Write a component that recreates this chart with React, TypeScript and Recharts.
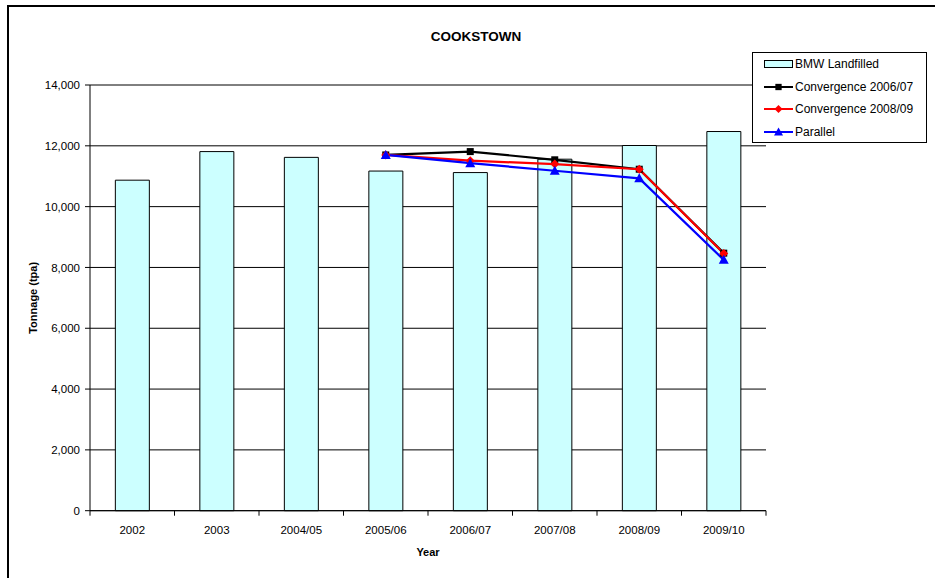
import {
  ComposedChart,
  Bar,
  Line,
  XAxis,
  YAxis,
  CartesianGrid,
  Legend,
} from "recharts";

const YEARS = ["2002", "2003", "2004/05", "2005/06", "2006/07", "2007/08", "2008/09", "2009/10"];
const LANDFILLED = [10870, 11810, 11620, 11170, 11120, 11560, 12010, 12470];
const CONV_0607 = [null, null, null, 11700, 11810, 11540, 11230, 8470];
const CONV_0809 = [null, null, null, 11700, 11510, 11400, 11230, 8460];
const PARALLEL = [null, null, null, 11700, 11430, 11180, 10930, 8250];
const Y_TICKS = [0, 2000, 4000, 6000, 8000, 10000, 12000, 14000];

const FONT = "'Liberation Sans', Arial, sans-serif";

const data = YEARS.map((year, i) => ({
  year,
  landfilled: LANDFILLED[i],
  conv0607: CONV_0607[i],
  conv0809: CONV_0809[i],
  parallel: PARALLEL[i],
}));

type Marker = "square" | "diamond" | "triangle";

const LINES: { key: string; name: string; color: string; marker: Marker }[] = [
  { key: "conv0607", name: "Convergence 2006/07", color: "#000000", marker: "square" },
  { key: "conv0809", name: "Convergence 2008/09", color: "#FF0000", marker: "diamond" },
  { key: "parallel", name: "Parallel", color: "#0000FF", marker: "triangle" },
];

function markerShape(marker: Marker, cx: number, cy: number, color: string, s = 1) {
  if (marker === "square") {
    const h = 3.5 * s;
    return <rect x={cx - h} y={cy - h} width={h * 2} height={h * 2} fill={color} />;
  }
  if (marker === "diamond") {
    const h = 4.5 * s;
    return (
      <polygon
        points={`${cx},${cy - h} ${cx + h},${cy} ${cx},${cy + h} ${cx - h},${cy}`}
        fill={color}
      />
    );
  }
  const h = 5 * s;
  return (
    <polygon
      points={`${cx},${cy - h} ${cx + h},${cy + h * 0.8} ${cx - h},${cy + h * 0.8}`}
      fill={color}
    />
  );
}

const makeDot = (marker: Marker, color: string) => (props: any) => {
  const { cx, cy, value, index } = props;
  if (cx == null || cy == null || value == null) return <g key={`e-${index}`} />;
  return <g key={`d-${index}`}>{markerShape(marker, cx, cy, color)}</g>;
};

// category label plus Excel-style tick marks on the category boundaries
function YearTick(props: any) {
  const { x, y, payload, index, visibleTicksCount } = props;
  const half = payload.offset ?? 0;
  const last = index === visibleTicksCount - 1;
  return (
    <g>
      <line x1={x - half} x2={x - half} y1={y} y2={y + 5} stroke="#000" />
      {last && <line x1={x + half} x2={x + half} y1={y} y2={y + 5} stroke="#000" />}
      <text
        x={x}
        y={y + 15}
        dy="0.71em"
        textAnchor="middle"
        fontFamily={FONT}
        fontSize={11.5}
        fill="#000"
      >
        {payload.value}
      </text>
    </g>
  );
}

function LegendBox() {
  return (
    <div
      style={{
        border: "1px solid #000",
        background: "#fff",
        width: 173,
        height: 89,
        fontFamily: FONT,
        fontSize: 12,
        color: "#000",
        boxSizing: "content-box",
      }}
    >
      <div style={{ height: 22.5, display: "flex", alignItems: "center" }}>
        <svg width={42} height={12}>
          <rect x={11.5} y={2.5} width={28} height={7} fill="#CCFFFF" stroke="#000" />
        </svg>
        <span>BMW Landfilled</span>
      </div>
      {LINES.map((l) => (
        <div key={l.key} style={{ height: 22.5, display: "flex", alignItems: "center" }}>
          <svg width={42} height={12}>
            <line x1={11} x2={40} y1={6} y2={6} stroke={l.color} strokeWidth={2} />
            {markerShape(l.marker, 25.5, 6, l.color, 0.9)}
          </svg>
          <span>{l.name}</span>
        </div>
      ))}
    </div>
  );
}

function YTitle(props: any) {
  const vb = props.viewBox;
  const x = vb.x + 37;
  const y = vb.y + vb.height / 2;
  return (
    <text
      x={x}
      y={y}
      transform={`rotate(-90, ${x}, ${y})`}
      textAnchor="middle"
      fontFamily={FONT}
      fontSize={11}
      fontWeight="bold"
      fill="#000"
    >
      Tonnage (tpa)
    </text>
  );
}

function XTitle(props: any) {
  const vb = props.viewBox;
  return (
    <text
      x={vb.x + vb.width / 2}
      y={vb.y + 45}
      textAnchor="middle"
      fontFamily={FONT}
      fontSize={11}
      fontWeight="bold"
      fill="#000"
    >
      Year
    </text>
  );
}

export default function App() {
  const tick = { fontSize: 11.5, fill: "#000", fontFamily: FONT };
  return (
    <div
      style={{
        position: "absolute",
        left: 0,
        top: 0,
        width: 935,
        height: 578,
        overflow: "hidden",
        background: "#fff",
      }}
    >
      <div
        style={{
          position: "absolute",
          left: 7,
          top: 5,
          width: 2000,
          height: 2000,
          border: "2px solid #000",
        }}
      />
      <div
        style={{
          position: "absolute",
          left: 376,
          top: 28,
          width: 200,
          textAlign: "center",
          fontFamily: FONT,
          fontSize: 13.5,
          fontWeight: "bold",
          lineHeight: "17px",
          color: "#000",
        }}
      >
        COOKSTOWN
      </div>
      <div style={{ position: "absolute", left: 0, top: 0 }}>
        <ComposedChart
          width={935}
          height={578}
          data={data}
          barCategoryGap="30%"
          margin={{ top: 85, right: 169, bottom: 21, left: 0 }}
        >
          <CartesianGrid vertical={false} stroke="#000" strokeWidth={1} />
          <XAxis
            dataKey="year"
            height={46.3}
            interval={0}
            axisLine={{ stroke: "#000" }}
            tickLine={false}
            tickSize={0}
            tickMargin={0}
            tick={<YearTick />}
            label={<XTitle />}
          />
          <YAxis
            width={90}
            domain={[0, 14000]}
            ticks={Y_TICKS}
            tick={tick}
            tickSize={5}
            tickMargin={5}
            axisLine={{ stroke: "#000" }}
            tickLine={{ stroke: "#000" }}
            tickFormatter={(v: number) => v.toLocaleString("en-US")}
            label={<YTitle />}
          />
          <YAxis
            yAxisId="right"
            orientation="right"
            width={0}
            domain={[0, 14000]}
            tick={false}
            tickLine={false}
            axisLine={{ stroke: "#808080" }}
          />
          <Bar
            dataKey="landfilled"
            name="BMW Landfilled"
            fill="#CCFFFF"
            stroke="#000"
            strokeWidth={1}
            isAnimationActive={false}
          />
          {LINES.map((l) => (
            <Line
              key={l.key}
              dataKey={l.key}
              name={l.name}
              stroke={l.color}
              strokeWidth={2.2}
              dot={makeDot(l.marker, l.color)}
              activeDot={false}
              isAnimationActive={false}
            />
          ))}
          <Legend
            layout="vertical"
            align="center"
            verticalAlign="middle"
            wrapperStyle={{ left: 752, top: 52, width: 175 }}
            content={() => <LegendBox />}
          />
        </ComposedChart>
      </div>
    </div>
  );
}
